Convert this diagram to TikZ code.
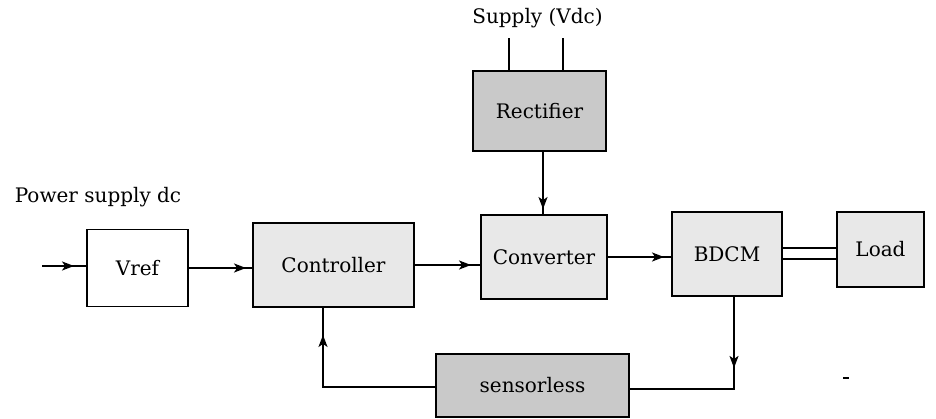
\documentclass[tikz,border=0pt]{standalone}
\usepackage{fontspec}
\setmainfont{DejaVu Serif}
\usetikzlibrary{calc,arrows.meta,decorations.markings}

\begin{document}
\begin{tikzpicture}[x=1pt, y=-1pt,
		block/.style={draw, line width=1.9pt, fill=#1, inner sep=0pt, font=\fontsize{20}{24}\selectfont},
		block/.default=black!9,
		wire/.style={line width=1.7pt},
		tipat/.style={postaction={decorate, decoration={markings, mark=at position #1 with {\arrow{Stealth[length=12pt, width=9pt, inset=3pt]}}}}}]
			%%%%% START %%%%%
			
			\useasboundingbox (0, 0) rectangle (936, 419);
			
			\node[block=white, minimum width=101pt, minimum height=77pt] (vref) at (137.5, 268) {Vref};
			\node[block, minimum width=161pt, minimum height=84pt] (ctrl) at (333.5, 265) {Controller};
			\node[block, minimum width=126pt, minimum height=84pt] (conv) at (544, 257) {Converter};
			\node[block=black!21, minimum width=133pt, minimum height=80pt] (rect) at (539.5, 111) {Rectifier};
			\node[block, minimum width=110pt, minimum height=84pt] (bdcm) at (727, 254) {BDCM};
			\node[block, minimum width=87pt, minimum height=75pt] (load) at (880.5, 249.5) {Load};
			\node[block=black!21, minimum width=193pt, minimum height=63pt] (sens) at (532.5, 385.5) {sensorless};
			
			\node[font=\fontsize{20}{24}\selectfont] (psup) at (98, 197) {Power supply dc};
			\node[font=\fontsize{20}{24}\selectfont] (vdc) at (537.5, 18) {Supply (Vdc)};
			
			\coordinate (in) at (42, 266);
			\draw[wire, tipat=-12pt] (in) -- (in -| vref.west);
			\draw[wire, tipat=-6pt] (vref.east) -- (vref.east -| ctrl.west);
			\draw[wire, tipat=-9pt] (ctrl.east) -- (ctrl.east -| conv.west);
			\draw[wire, tipat=-7pt] (conv.east) -- (conv.east -| bdcm.west);
			
			% supply leads into the rectifier
			\draw[wire] ([xshift=-30.5pt]rect.north) -- ++(0, -32);
			\draw[wire] ([xshift=23.5pt]rect.north) -- ++(0, -32);
			\draw[wire, tipat=-5pt] ([xshift=3.5pt]rect.south) -- ([xshift=3.5pt]rect.south |- conv.north);
			
			% motor shaft to the load
			\draw[wire] ([yshift=6pt]bdcm.east) -- ([yshift=6pt]bdcm.east -| load.west);
			\draw[wire] ([yshift=-5pt]bdcm.east) -- ([yshift=-5pt]bdcm.east -| load.west);
			
			% feedback loop
			\draw[wire, tipat=71pt] ([xshift=7pt]bdcm.south) |- ([yshift=-3.5pt]sens.east);
			\draw[wire, tipat=-27pt] ([yshift=-1.5pt]sens.west) -| ([xshift=-10.5pt]ctrl.south);
			
			\draw[line width=2pt] (843, 378) -- (849, 378);
			
			%%%%% END %%%%%
		\end{tikzpicture}
\end{document}
